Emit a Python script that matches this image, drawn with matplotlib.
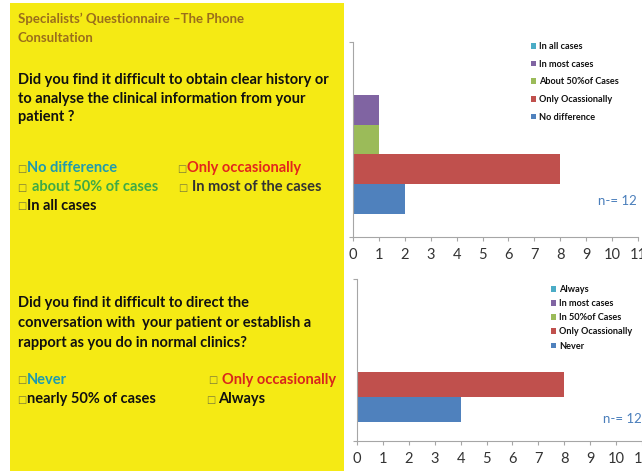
import matplotlib.pyplot as plt
import numpy as np
from matplotlib.patches import Rectangle

plt.rcParams['font.family'] = ['Lato', 'DejaVu Sans']

W, H = 642, 475

# data
q1_series = ['No difference', 'Only Ocassionally', 'About 50%of Cases', 'In most cases', 'In all cases']
q1_values = [2, 8, 1, 1, 0]
q2_series = ['Never', 'Only Ocassionally', 'In 50%of Cases', 'In most cases', 'Always']
q2_values = [4, 8, 0, 0, 0]
colors = ['#4F81BD', '#C0504D', '#9BBB59', '#8064A2', '#4BACC6']
xticks = list(range(0, 12))
n_label = 'n-= 12'

title_lines = ["Specialists\u2019 Questionnaire \u2013The Phone", "Consultation"]
q1_lines = ["Did you find it difficult to obtain clear history or",
            "to analyse the clinical information from your",
            "patient ?"]
q2_lines = ["Did you find it difficult to direct the",
            "conversation with  your patient or establish a",
            "rapport as you do in normal clinics?"]
# (text, box x, text x, y, colour)
q1_opts = [("No difference", 18, 27, 168, '#1F9AAE'),
           ("Only occasionally", 178, 187, 168, '#E3261C'),
           ("about 50% of cases", 18, 32, 187, '#3EAA46'),
           ("In most of the cases", 179, 192, 187, '#333333'),
           ("In all cases", 18, 27, 206, '#111111')]
q2_opts = [("Never", 18, 27, 380, '#1F9AAE'),
           ("Only occasionally", 209, 222, 380, '#D8261C'),
           ("nearly 50% of cases", 18, 27, 399, '#111111'),
           ("Always", 207, 218, 399, '#111111')]


def box(l, t, r, b):
    return [l / W, 1 - b / H, (r - l) / W, (b - t) / H]


def fx(x):
    return x / W


def fy(y):
    return 1 - y / H


fig = plt.figure(figsize=(W / 100, H / 100), dpi=100)
fig.patch.set_facecolor('white')

# yellow panel
fig.patches.append(Rectangle((fx(10), fy(471)), fx(344) - fx(10), fy(3) - fy(471),
                             transform=fig.transFigure, facecolor='#F5EA14',
                             edgecolor='none', zorder=0))

for i, line in enumerate(title_lines):
    fig.text(fx(18), fy(19 + 19 * i), line, fontsize=9.5, fontweight='bold',
             color='#9A6E1C', va='center', ha='left')

for i, line in enumerate(q1_lines):
    fig.text(fx(18), fy(80 + 18.5 * i), line, fontsize=10.5, fontweight='bold',
             color='#111111', va='center', ha='left')
for i, line in enumerate(q2_lines):
    fig.text(fx(18), fy(303 + 20 * i), line, fontsize=10.5, fontweight='bold',
             color='#111111', va='center', ha='left')

for text, bx, tx, y, c in q1_opts + q2_opts:
    fig.text(fx(bx - 1), fy(y + 0.5), '\u25a1', fontsize=7, color='#7A7A3A',
             family=['DejaVu Sans'], va='center', ha='left')
    fig.text(fx(tx), fy(y), text, fontsize=10.5, fontweight='bold',
             color=c, va='center', ha='left')


def bar_chart(ax, series, values, legend_top, legend_x, spacing):
    group = 0.76
    h = group / len(series)
    offs = -group / 2 + h * (np.arange(len(series)) + 0.5)
    for s, v, c, o in zip(series, values, colors, offs):
        ax.barh(o, v, height=h, color=c, label=s, edgecolor='none')
    ax.set_xlim(0, 11)
    ax.set_ylim(-0.5, 0.5)
    ax.set_xticks(xticks)
    ax.set_xticklabels([str(t) for t in xticks], fontsize=10.5)
    ax.set_yticks([-0.5, 0.5])
    ax.set_yticklabels([])
    for sp in ['top', 'right']:
        ax.spines[sp].set_visible(False)
    for sp in ['left', 'bottom']:
        ax.spines[sp].set_color('#A6A6A6')
        ax.spines[sp].set_linewidth(0.8)
    ax.tick_params(axis='both', colors='#A6A6A6', length=3, width=0.8, labelcolor='#333333')
    ax.tick_params(axis='x', pad=5)
    handles, labels = ax.get_legend_handles_labels()
    leg = ax.legend(handles[::-1], labels[::-1], loc='upper left',
                    bbox_to_anchor=(fx(legend_x), fy(legend_top)),
                    bbox_transform=fig.transFigure, frameon=False,
                    fontsize=6.6, handlelength=0.55, handleheight=0.55,
                    handletextpad=0.35, labelspacing=spacing, borderpad=0,
                    borderaxespad=0)
    for t in leg.get_texts():
        t.set_fontweight('bold')
        t.set_color('#111111')


ax1 = fig.add_axes(box(353, 42, 638, 237))
bar_chart(ax1, q1_series, q1_values, 42, 531, 0.95)
ax1.text(fx(598), fy(201), n_label, transform=fig.transFigure, fontsize=9.5,
         color='#4A7EBB', ha='left', va='center')

ax2 = fig.add_axes(box(357, 279, 642, 441))
bar_chart(ax2, q2_series, q2_values, 285, 551, 0.56)
ax2.text(fx(603), fy(419), n_label, transform=fig.transFigure, fontsize=9.5,
         color='#4A7EBB', ha='left', va='center')

fig.savefig('out.png', dpi=100)
